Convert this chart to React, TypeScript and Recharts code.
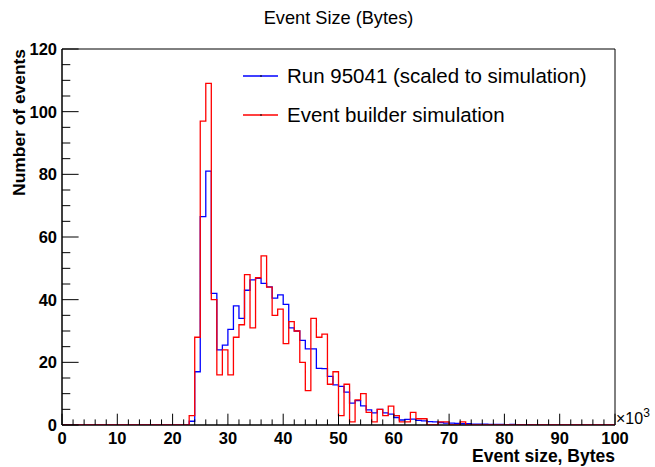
import React from 'react';
import { ComposedChart, Line, XAxis, YAxis, ReferenceArea, Legend } from 'recharts';

// Bin lower edges in units of 10^3 bytes (bin width = 1)
const binEdges = [
  0, 1, 2, 3, 4, 5, 6, 7, 8, 9, 10, 11, 12, 13, 14, 15, 16, 17, 18, 19,
  20, 21, 22, 23, 24, 25, 26, 27, 28, 29, 30, 31, 32, 33, 34, 35, 36, 37, 38, 39,
  40, 41, 42, 43, 44, 45, 46, 47, 48, 49, 50, 51, 52, 53, 54, 55, 56, 57, 58, 59,
  60, 61, 62, 63, 64, 65, 66, 67, 68, 69, 70, 71, 72, 73, 74, 75, 76, 77, 78, 79,
  80, 81, 82, 83, 84, 85, 86, 87, 88, 89, 90, 91, 92, 93, 94, 95, 96, 97, 98, 99, 100,
];

// Run 95041 (scaled to simulation) – blue
const runValues = [
  0, 0, 0, 0, 0, 0, 0, 0, 0, 0,
  0, 0, 0, 0, 0, 0, 0, 0, 0, 0,
  0, 0, 0, 1.2, 17, 66.5, 81, 42, 24, 25.5,
  30.5, 38, 34, 43, 46.3, 46.8, 45.2, 44.1, 40.5, 41.5,
  38.5, 31, 30, 27, 24.3, 24.3, 18.1, 18, 15.5, 12.8,
  12.3, 10.5, 7, 7.8, 6.1, 4.8, 3.9, 5, 3.9, 3.5,
  2.4, 1.6, 1.8, 1.9, 1.5, 1.3, 1.1, 1, 0.8, 0.6,
  0.6, 0.5, 0.4, 0.4, 0.3, 0.3, 0.3, 0.2, 0.2, 0.2,
  0.1, 0.2, 0.1, 0.1, 0.1, 0, 0, 0, 0, 0,
  0, 0, 0, 0, 0, 0, 0, 0, 0, 0,
];

// Event builder simulation – red
const simValues = [
  0, 0, 0, 0, 0, 0, 0, 0, 0, 0,
  0, 0, 0, 0, 0, 0, 0, 0, 0, 0,
  0, 0, 0, 3, 28, 97, 109, 40, 16, 24,
  16, 28, 32, 48, 31, 47, 54, 44, 35, 37,
  26, 33, 30, 20, 11, 34, 28, 29, 13, 17,
  3, 13, 1, 8, 10, 4, 1, 5, 3, 6,
  3, 1, 1, 4, 2, 2, 0, 0, 1, 1,
  0, 0, 1, 0, 0, 0, 0, 0, 0, 0,
  0, 0, 0, 0, 0, 0, 0, 0, 0, 0,
  0, 0, 0, 0, 0, 0, 0, 0, 0, 0,
];

const xTicks = [
  0, 2, 4, 6, 8, 10, 12, 14, 16, 18, 20, 22, 24, 26, 28, 30, 32, 34, 36, 38,
  40, 42, 44, 46, 48, 50, 52, 54, 56, 58, 60, 62, 64, 66, 68, 70, 72, 74, 76, 78,
  80, 82, 84, 86, 88, 90, 92, 94, 96, 98, 100,
];
const yTicks = [0, 5, 10, 15, 20, 25, 30, 35, 40, 45, 50, 55, 60, 65, 70, 75, 80, 85, 90, 95, 100, 105, 110, 115, 120];

const seriesNames = ['Run 95041 (scaled to simulation)', 'Event builder simulation'];
const seriesColors = ['#0000ff', '#ff0000'];

const data = binEdges.map((edge, i) => ({
  edge,
  run: runValues[Math.min(i, runValues.length - 1)],
  sim: simValues[Math.min(i, simValues.length - 1)],
}));

const FONT = '"Liberation Sans", Arial, Helvetica, sans-serif';
const W = 655;
const H = 467;
const M = { top: 49, right: 40, left: 0, bottom: 0 };
const Y_AXIS_W = 62;
const X_AXIS_H = 42;
const PLOT_RIGHT = W - M.right;

const XTick = (props: any) => {
  const { x, y, payload } = props;
  const v = payload.value;
  const major = v % 10 === 0;
  const len = major ? 11.3 : 5.6;
  return (
    <g>
      <line x1={x} x2={x} y1={y} y2={y - len} stroke="#000" strokeWidth={1} />
      {major && (
        <text x={x} y={y + 19} textAnchor="middle" fontFamily={FONT} fontWeight="bold" fontSize={16.5} fill="#000">
          {v}
        </text>
      )}
    </g>
  );
};

const YTick = (props: any) => {
  const { x, y, payload } = props;
  const v = payload.value;
  const major = v % 20 === 0;
  const len = major ? 16.6 : 8.3;
  return (
    <g>
      <line x1={x} x2={x + len} y1={y} y2={y} stroke="#000" strokeWidth={1} />
      {major && (
        <text x={x - 5} y={y} dy="0.36em" textAnchor="end" fontFamily={FONT} fontWeight="bold" fontSize={16.5} fill="#000">
          {v}
        </text>
      )}
    </g>
  );
};

const LegendContent = () => (
  <svg width={360} height={80} style={{ display: 'block' }}>
    {seriesNames.map((name, i) => {
      const cy = 20 + i * 39;
      return (
        <g key={name}>
          <line x1={0} x2={35} y1={cy} y2={cy} stroke={seriesColors[i]} strokeWidth={1.3} />
          <line x1={17} x2={19} y1={cy} y2={cy} stroke="#000" strokeWidth={1} />
          <text x={44} y={cy + 7.3} fontFamily={FONT} fontSize={20.5} fill="#000">
            {name}
          </text>
        </g>
      );
    })}
  </svg>
);

export default function App() {
  return (
    <div style={{ position: 'absolute', left: 0, top: 0, width: W, height: H, background: '#fff' }}>
      <ComposedChart width={W} height={H} data={data} margin={M}>
        <XAxis
          dataKey="edge"
          type="number"
          domain={[0, 100]}
          ticks={xTicks}
          interval={0}
          height={X_AXIS_H}
          tickSize={0}
          tickMargin={0}
          tickLine={false}
          tick={<XTick />}
          axisLine={{ stroke: '#000', strokeWidth: 1 }}
          allowDataOverflow
        />
        <YAxis
          type="number"
          domain={[0, 120]}
          ticks={yTicks}
          interval={0}
          width={Y_AXIS_W}
          tickSize={0}
          tickMargin={0}
          tickLine={false}
          tick={<YTick />}
          axisLine={{ stroke: '#000', strokeWidth: 1 }}
          allowDataOverflow
        />
        <ReferenceArea x1={0} x2={100} y1={0} y2={120} fill="none" fillOpacity={0} stroke="#000" strokeWidth={1} strokeOpacity={1} />
        <Line
          dataKey="run"
          name={seriesNames[0]}
          type="stepAfter"
          stroke={seriesColors[0]}
          strokeWidth={1.3}
          dot={false}
          activeDot={false}
          isAnimationActive={false}
        />
        <Line
          dataKey="sim"
          name={seriesNames[1]}
          type="stepAfter"
          stroke={seriesColors[1]}
          strokeWidth={1.3}
          dot={false}
          activeDot={false}
          isAnimationActive={false}
        />
        <Legend
          layout="vertical"
          align="center"
          verticalAlign="middle"
          content={<LegendContent />}
          wrapperStyle={{ position: 'absolute', left: 243, top: 56, width: 360, height: 80 }}
        />
      </ComposedChart>
      <svg width={W} height={H} style={{ position: 'absolute', left: 0, top: 0, pointerEvents: 'none' }}>
        <text x={(Y_AXIS_W + PLOT_RIGHT) / 2} y={24} textAnchor="middle" fontFamily={FONT} fontSize={18.2} fill="#000">
          Event Size (Bytes)
        </text>
        <text
          x={25}
          y={M.top}
          transform={`rotate(-90 25 ${M.top})`}
          textAnchor="end"
          fontFamily={FONT}
          fontWeight="bold"
          fontSize={17.4}
          fill="#000"
        >
          Number of events
        </text>
        <text x={PLOT_RIGHT} y={462} textAnchor="end" fontFamily={FONT} fontWeight="bold" fontSize={17.5} fill="#000">
          Event size, Bytes
        </text>
        <text x={PLOT_RIGHT + 1} y={424} fontFamily={FONT} fontSize={16} fill="#000">
          ×10
          <tspan dy={-7} fontSize={12}>3</tspan>
        </text>
      </svg>
    </div>
  );
}
